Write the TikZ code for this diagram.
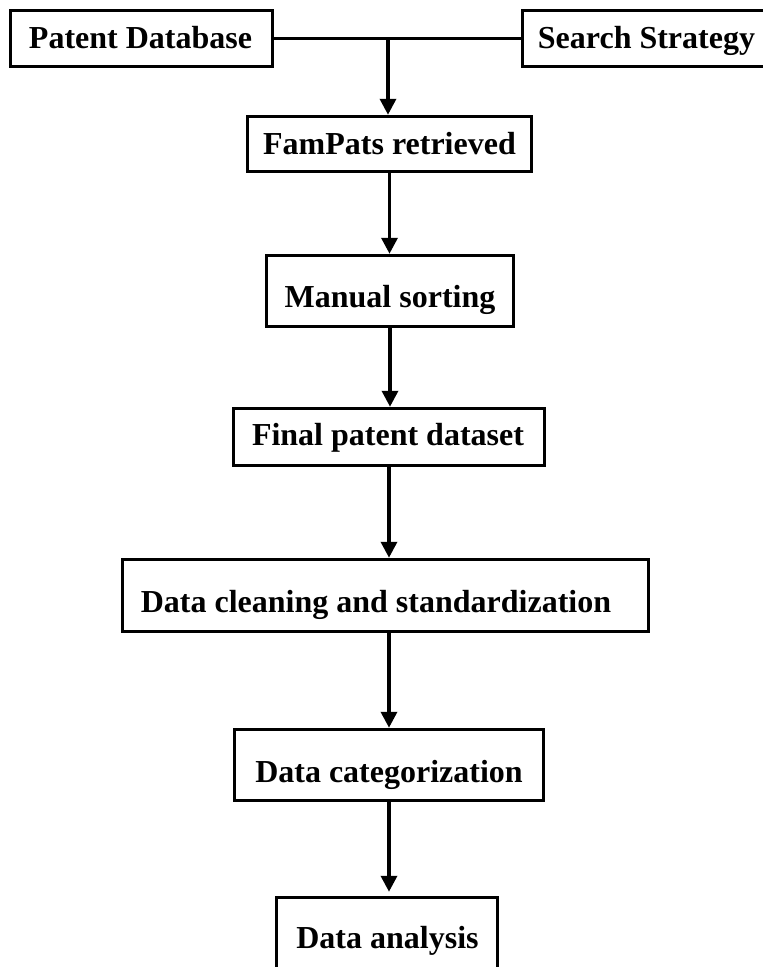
\documentclass[tikz,border=0pt]{standalone}
\usepackage{fontspec}
\setmainfont{Liberation Serif}
\usetikzlibrary{arrows.meta}
\begin{document}
\begin{tikzpicture}[x=1pt,y=-1pt,
  boxnode/.style={draw=black,line width=3.5pt,rectangle,inner sep=0pt,fill=white},
  lbl/.style={anchor=base,inner sep=0pt,font=\fontsize{32}{36}\selectfont\bfseries},
  conn/.style={line width=3.5pt,draw=black},
  arr/.style={conn,-{Triangle[width=16pt,length=16pt]}}]
\useasboundingbox (0,0) rectangle (763,967);
% boxes
\node[boxnode,minimum width=262pt,minimum height=56pt] (pd) at (141.5,38.5) {};
\node[boxnode,minimum width=253pt,minimum height=56pt] (ss) at (649,38.5) {};
\node[boxnode,minimum width=284pt,minimum height=55pt] (fp) at (389.5,144) {};
\node[boxnode,minimum width=247pt,minimum height=71pt] (ms) at (390,291) {};
\node[boxnode,minimum width=311pt,minimum height=57pt] (fd) at (389,437) {};
\node[boxnode,minimum width=526pt,minimum height=72pt] (dc) at (385.5,595.5) {};
\node[boxnode,minimum width=309pt,minimum height=71pt] (dcat) at (389,765) {};
\node[boxnode,minimum width=221pt,minimum height=87pt] (da) at (387,941) {};
% labels
\node[lbl] (pdt) at (140.5,48) {Patent Database};
\node[lbl] (sst) at (646.5,48) {Search Strategy};
\node[lbl] (fpt) at (389.5,154) {FamPats retrieved};
\node[lbl] (mst) at (390,307) {Manual sorting};
\node[lbl] (fdt) at (388,445) {Final patent dataset};
\node[lbl] (dct) at (376,612) {Data cleaning and standardization};
\node[lbl] (dcatt) at (389,782) {Data categorization};
\node[lbl] (dat) at (387.5,948) {Data analysis};
% connectors
\coordinate (j) at (388,38.5);
\draw[conn] (pd.east) -- (ss.west);
\draw[arr] (j) -- (j |- fp.north);
\draw[arr] (fp.south) -- (fp.south |- ms.north);
\draw[arr] (ms.south) -- (ms.south |- fd.north);
\draw[arr] (fd.south) -- (fd.south |- dc.north);
\draw[arr] ([xshift=3.5pt]dc.south) -- ([xshift=3.5pt]dc.south |- dcat.north);
\draw[arr,shorten >=4pt] (dcat.south) -- (dcat.south |- da.north);
\end{tikzpicture}
\end{document}
